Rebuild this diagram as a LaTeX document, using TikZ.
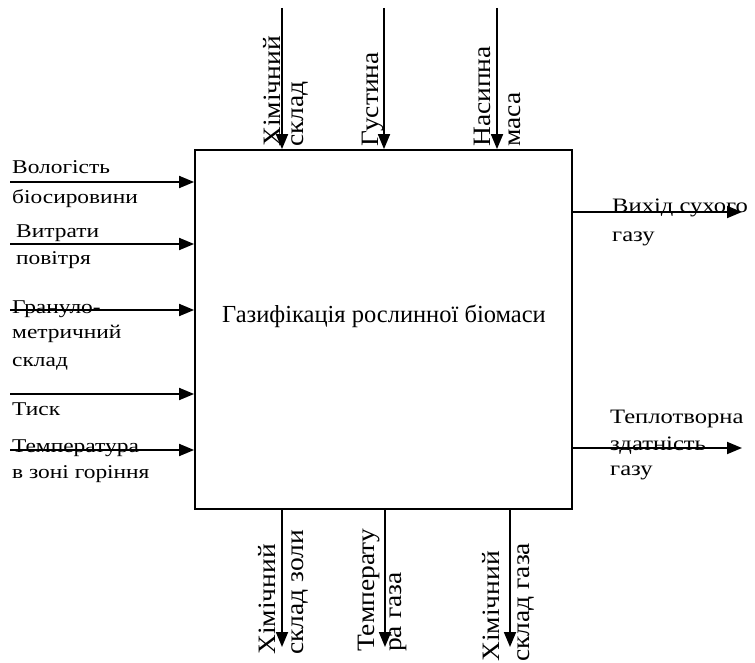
\documentclass[tikz,border=0pt]{standalone}
\usepackage{fontspec}
\setmainfont{Liberation Serif}
\newfontfamily\labfont[FakeStretch=1.2]{Liberation Serif}
\newfontfamily\rotfont[FakeStretch=1.1]{Liberation Serif}
\usetikzlibrary{arrows.meta}
\begin{document}
\begin{tikzpicture}[x=1pt,y=-1pt,
  arr/.style={line width=1.8pt,-{Triangle[length=15pt,width=12pt]}},
  lab/.style={inner sep=0pt,anchor=base west,font=\labfont\fontsize{19.5}{22}\selectfont},
  rlabh/.style={inner sep=0pt,anchor=base west,font=\labfont\fontsize{20.5}{23}\selectfont},
  rlab/.style={inner sep=0pt,anchor=base west,rotate=90,font=\rotfont\fontsize{25}{28}\selectfont}]
\useasboundingbox (0,0) rectangle (755,663);
\node[draw,line width=1.8pt,minimum width=377pt,minimum height=359pt,inner sep=0pt] (box) at (383.5,329.5) {};
\node[inner sep=0pt,anchor=base,font=\fontsize{24.5}{27}\selectfont] (title) at (384,322) {Газифікація рослинної біомаси};
% inputs
\coordinate (i1) at (10,182);
\coordinate (i2) at (10,244);
\coordinate (i3) at (10,310);
\coordinate (i4) at (10,394);
\coordinate (i5) at (10,450);
\foreach \c in {i1,i2,i3,i4,i5} \draw[arr] (\c) -- (\c -| box.west);
\node[lab] (l1a) at (12,174) {Вологість};
\node[lab] (l1b) at (12,204) {біосировини};
\node[lab] (l2a) at (16,237) {Витрати};
\node[lab] (l2b) at (16,265) {повітря};
\node[lab] (l3a) at (12,313) {Грануло-};
\node[lab] (l3b) at (12,338) {метричний};
\node[lab] (l3c) at (12,366) {склад};
\node[lab] (l4) at (12,415) {Тиск};
\node[lab] (l5a) at (12,452) {Температура};
\node[lab] (l5b) at (12,478) {в зоні горіння};
% controls
\coordinate (c1) at (282,8);
\coordinate (c2) at (384,8);
\coordinate (c3) at (497,8);
\foreach \c in {c1,c2,c3} \draw[arr] (\c) -- (\c |- box.north);
\node[rlab] (t1a) at (280,147) {Хімічний};
\node[rlab] (t1b) at (303,147) {склад};
\node[rlab] (t2) at (378,147) {Густина};
\node[rlab] (t3a) at (490,147) {Насипна};
\node[rlab] (t3b) at (520,147) {маса};
% outputs right
\coordinate (r1) at (742,212);
\coordinate (r2) at (742,448);
\foreach \c in {r1,r2} \draw[arr] (\c -| box.east) -- (\c);
\node[rlabh] (o1a) at (612,213) {Вихід сухого};
\node[rlabh] (o1b) at (612,241) {газу};
\node[rlabh] (o2a) at (610,423) {Теплотворна};
\node[rlabh] (o2b) at (610,450) {здатність};
\node[rlabh] (o2c) at (610,475) {газу};
% outputs bottom
\coordinate (b1) at (282,647);
\coordinate (b2) at (385,647);
\coordinate (b3) at (510,647);
\foreach \c in {b1,b2,b3} \draw[arr] (\c |- box.south) -- (\c);
\node[rlab] (d1a) at (275,655) {Хімічний};
\node[rlab] (d1b) at (303,655) {склад золи};
\node[rlab] (d2a) at (374,652) {Температу};
\node[rlab] (d2b) at (401,652) {ра газа};
\node[rlab] (d3a) at (499,662) {Хімічний};
\node[rlab] (d3b) at (529,662) {склад газа};
\end{tikzpicture}
\end{document}
